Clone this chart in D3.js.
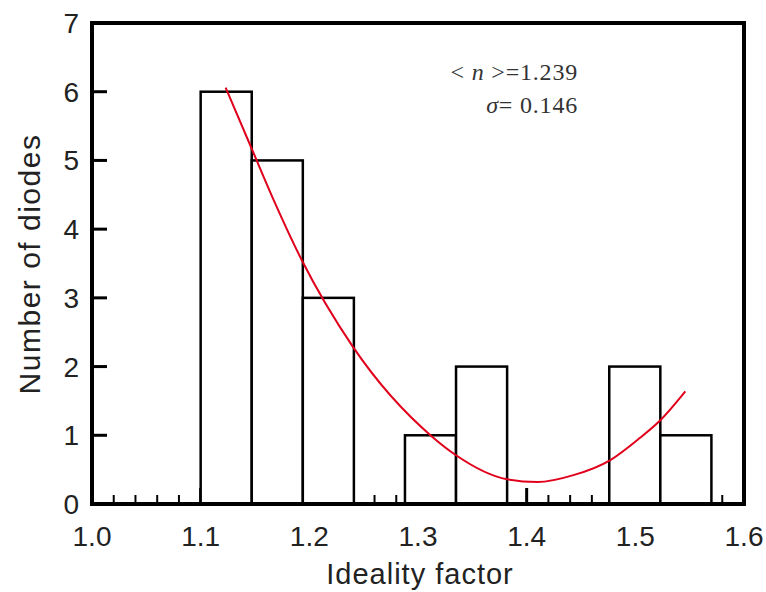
<!DOCTYPE html>
<html>
<head>
<meta charset="utf-8">
<script src="https://cdn.jsdelivr.net/npm/d3@7"></script>
<style>
  body { margin: 0; background: #fff; }
  svg text { font-family: "Liberation Sans", Arial, sans-serif; }
</style>
</head>
<body>
<div id="container"></div>
<script>
// histogram bins (ideality factor) and counts
var binEdges = [1.100, 1.147, 1.194, 1.241, 1.288, 1.335, 1.382, 1.429, 1.476, 1.523, 1.570];
var counts = [6, 5, 3, 0, 1, 2, 0, 0, 2, 1];

// red fitted curve
var fitX = [1.123, 1.147, 1.167, 1.193, 1.240, 1.313, 1.335, 1.382, 1.410, 1.443, 1.477, 1.504, 1.523, 1.546];
var fitY = [6.06, 5.17, 4.43, 3.55, 2.29, 0.98, 0.71, 0.36, 0.32, 0.42, 0.64, 0.96, 1.22, 1.64];

var xTickLabels = ["1.0", "1.1", "1.2", "1.3", "1.4", "1.5", "1.6"];
var yTickLabels = ["0", "1", "2", "3", "4", "5", "6", "7"];

var width = 766,
	height = 592,
	mLeft = 92, mRight = 744, mTop = 23, mBottom = 504;

var xScale = d3.scaleLinear()
	.domain([1.0, 1.6])
	.range([mLeft, mRight])

var yScale = d3.scaleLinear()
	.domain([0, 7])
	.range([mBottom, mTop])

var svg = d3.select("#container")
	.append('svg')
		.attr("width", width)
		.attr("height", height)

// x ticks, inward: minor every 0.02, major every 0.1
var minor = d3.range(1, 30).map(function(i){ return 1.0 + i*0.02; })
svg.selectAll(".xtick")
	.data(minor)
	.enter().append('line')
	.attr("x1", function(d){ return xScale(d) })
	.attr("x2", function(d){ return xScale(d) })
	.attr("y1", mBottom)
	.attr("y2", function(d, i){ return (i+1) % 5 == 0 ? mBottom-16 : mBottom-9 })
	.style("stroke", "#000")
	.style("stroke-width", function(d, i){ return (i+1) % 5 == 0 ? 3 : 2 })

// y ticks, inward
svg.selectAll(".ytick")
	.data(d3.range(1, 7))
	.enter().append('line')
	.attr("x1", mLeft)
	.attr("x2", mLeft+15)
	.attr("y1", function(d){ return yScale(d) })
	.attr("y2", function(d){ return yScale(d) })
	.style("stroke", "#000")
	.style("stroke-width", 3)

// bars (white fill hides the ticks behind them)
var bars = counts.map(function(c, i){ return {x0: binEdges[i], x1: binEdges[i+1], n: c} })
	.filter(function(b){ return b.n > 0 })

svg.selectAll("rect.bar")
	.data(bars)
	.enter().append('rect')
	.attr("class", "bar")
	.attr("x", function(d){ return xScale(d.x0) })
	.attr("y", function(d){ return yScale(d.n) })
	.attr("width", function(d){ return xScale(d.x1) - xScale(d.x0) })
	.attr("height", function(d){ return yScale(0) - yScale(d.n) })
	.style("fill", "#fff")
	.style("stroke", "#000")
	.style("stroke-width", 2.5)

// fitted curve
var line = d3.line()
	.x(function(d){ return xScale(d[0]) })
	.y(function(d){ return yScale(d[1]) })
	.curve(d3.curveMonotoneX)

svg.append('path')
	.datum(d3.zip(fitX, fitY))
	.attr("d", line)
	.style("fill", "none")
	.style("stroke", "#e0001b")
	.style("stroke-width", 2)

// frame
svg.append('rect')
	.attr("x", mLeft)
	.attr("y", mTop)
	.attr("width", mRight-mLeft)
	.attr("height", mBottom-mTop)
	.style("fill", "none")
	.style("stroke", "#000")
	.style("stroke-width", 4)

// tick labels
svg.selectAll(".xlab")
	.data(xTickLabels)
	.enter().append('text')
	.attr("x", function(d){ return xScale(+d) })
	.attr("y", 546)
	.attr("text-anchor", "middle")
	.style("font-size", "28px")
	.style("fill", "#222")
	.text(function(d){ return d })

svg.selectAll(".ylab")
	.data(yTickLabels)
	.enter().append('text')
	.attr("x", 79)
	.attr("y", function(d){ return yScale(+d) + 10 })
	.attr("text-anchor", "end")
	.style("font-size", "28px")
	.style("fill", "#222")
	.text(function(d){ return d })

// axis titles
svg.append('text')
	.attr("x", (mLeft+mRight)/2 + 2)
	.attr("y", 584)
	.attr("text-anchor", "middle")
	.style("font-size", "29px")
	.style("letter-spacing", "1px")
	.style("fill", "#222")
	.text("Ideality factor")

svg.append('text')
	.attr("transform", "translate(40," + 264 + ") rotate(-90)")
	.attr("text-anchor", "middle")
	.style("font-size", "30px")
	.style("letter-spacing", "1.5px")
	.style("fill", "#222")
	.text("Number of diodes")

// annotation
var note = svg.append('text')
	.attr("text-anchor", "end")
	.style("font-family", "'Liberation Serif', 'Times New Roman', serif")
	.style("font-size", "24px")
	.style("letter-spacing", "0.8px")
	.style("fill", "#333")

var l1 = note.append('tspan').attr("x", 578).attr("y", 80)
l1.append('tspan').text("< ")
l1.append('tspan').style("font-style", "italic").text("n")
l1.append('tspan').text(" >=1.239")

var l2 = note.append('tspan').attr("x", 578).attr("y", 113)
l2.append('tspan').style("font-style", "italic").text("σ")
l2.append('tspan').text("= 0.146")
</script>
</body>
</html>
